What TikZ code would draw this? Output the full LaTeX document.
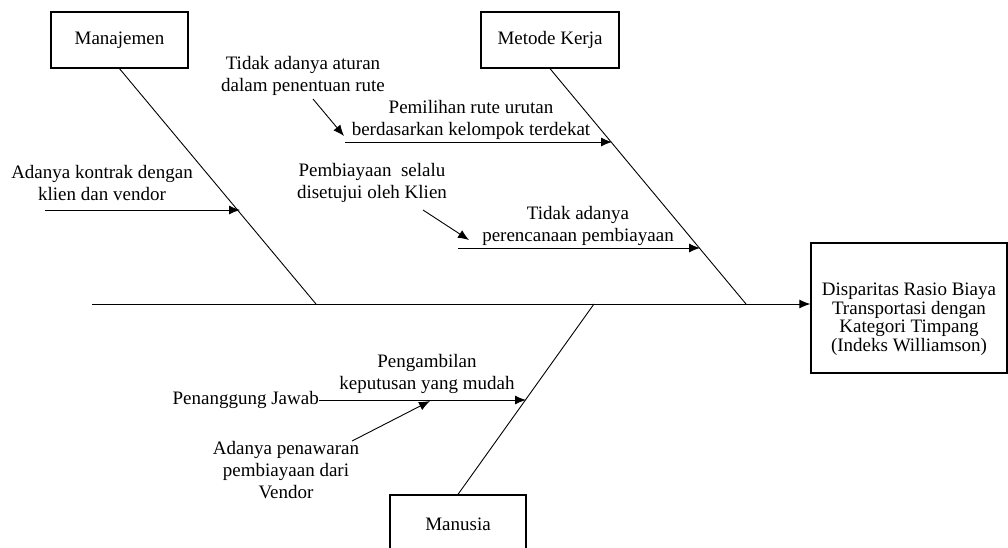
\documentclass[tikz,border=0pt]{standalone}
\usepackage{fontspec}
\setmainfont{Liberation Serif}
\newfontfamily\tnr{Liberation Serif}
\usetikzlibrary{arrows.meta}
\begin{document}
\begin{tikzpicture}[x=1pt,y=-1pt,
  box/.style={draw,line width=1.3pt,inner sep=0pt,font=\tnr\fontsize{19}{22}\selectfont},
  lbl/.style={align=center,inner sep=0pt,font=\tnr\fontsize{19}{22}\selectfont},
  efftxt/.style={align=center,inner sep=0pt,font=\tnr\fontsize{19}{18.5}\selectfont},
  bone/.style={line width=0.9pt},
  arr/.style={line width=0.9pt,-{Latex[length=11pt,width=9pt]}}]
\useasboundingbox (0,0) rectangle (1008,547);
\clip (0,0) rectangle (1008,547);

% category boxes
\node[box,minimum width=137pt,minimum height=56pt] (man) at (119.5,40) {Manajemen};
\node[box,minimum width=138pt,minimum height=56pt] (met) at (550,40) {Metode Kerja};
\node[box,minimum width=136pt,minimum height=58pt] (manu) at (458,524) {Manusia};
\node[box,minimum width=196pt,minimum height=130pt,
  label={[efftxt,yshift=-11pt]center:Disparitas Rasio Biaya\\Transportasi dengan\\Kategori Timpang\\(Indeks Williamson)}] (eff) at (909,308) {};

% spine
\coordinate (sp) at (92,304);
\draw[arr] (sp) -- (eff.west |- sp);

% bones
\coordinate (b1) at (316,304);
\coordinate (b2) at (746,304);
\coordinate (b3) at (594,304);
\draw[bone] (man.south) -- (b1);
\draw[bone] (met.south) -- (b2);
\draw[bone] (manu.north) -- (b3);

% Manajemen causes
\node[lbl] (l1) at (102,183) {Adanya kontrak dengan\\klien dan vendor};
\coordinate (s1) at (45,210);
\coordinate (c1) at (240,210);
\draw[arr] (s1) -- (c1);

% Metode Kerja causes
\node[lbl] (l2) at (303,76) {Tidak adanya aturan\\dalam penentuan rute};
\node[lbl] (l3) at (471,119.5) {Pemilihan rute urutan\\berdasarkan kelompok terdekat};
\coordinate (s2) at (345,142);
\coordinate (c2) at (612,142);
\draw[arr] (s2) -- (c2);
\coordinate (a2) at (313,99);
\coordinate (e2) at (344,136);
\draw[arr] (a2) -- (e2);

\node[lbl] (l4) at (372,183) {Pembiayaan~ selalu\\disetujui oleh Klien};
\node[lbl] (l5) at (578,226) {Tidak adanya\\perencanaan pembiayaan};
\coordinate (s3) at (458,248);
\coordinate (c3) at (700,248);
\draw[arr] (s3) -- (c3);
\coordinate (a4) at (423,210);
\coordinate (e4) at (469,240);
\draw[arr] (a4) -- (e4);

% Manusia causes
\node[lbl,anchor=east] (pj) at (319,400) {Penanggung Jawab};
\node[lbl] (l6) at (427,373.5) {Pengambilan\\keputusan yang mudah};
\coordinate (c4) at (526,400);
\draw[arr] (pj.east) -- (c4);
\node[lbl] (l7) at (286,470) {Adanya penawaran\\pembiayaan dari\\Vendor};
\coordinate (a7) at (352,441);
\coordinate (e7) at (430,401);
\draw[arr] (a7) -- (e7);
\end{tikzpicture}
\end{document}
